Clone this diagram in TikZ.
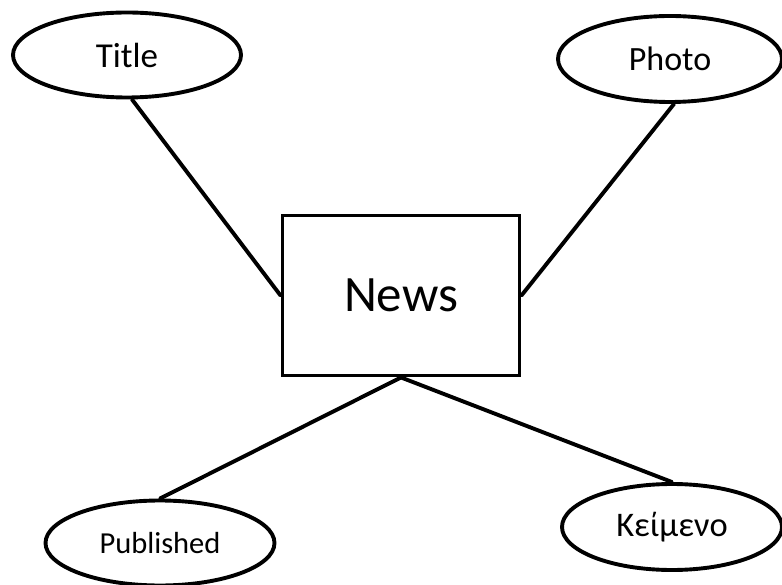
\documentclass[tikz,border=0pt]{standalone}
\usepackage{fontspec}
\setmainfont{Carlito}
\usetikzlibrary{shapes.geometric}
\begin{document}
\begin{tikzpicture}[x=1pt,y=-1pt,
  attr/.style={draw, ellipse, line width=3.9pt, inner sep=0pt,
    minimum width=228pt, minimum height=85pt},
  entity/.style={draw, rectangle, line width=3.9pt, inner sep=0pt,
    minimum width=237pt, minimum height=160pt,
    font=\fontsize{51}{56}\selectfont},
  link/.style={line width=3.9pt, line cap=round}]
  \useasboundingbox (0,0) rectangle (782,585);
  % entity
  \node[entity] (news) at (401,295.5) {News};
  % attributes
  \node[attr, font=\fontsize{35}{40}\selectfont] (title) at (127,55) {Title};
  \node[attr, minimum width=224pt, minimum height=86pt,
    font=\fontsize{34}{40}\selectfont] (photo) at (670,59) {Photo};
  \node[attr, minimum width=229pt, font=\fontsize{30.5}{36}\selectfont] (pub) at (160,543) {Published};
  \node[attr, minimum width=220pt, minimum height=86pt,
    font=\fontsize{34.5}{40}\selectfont] (text) at (672,527) {Κείμενο};
  % connectors
  \draw[link] (title.south) ++(5,0) -- (news.west);
  \draw[link] (photo.south) ++(4,0) -- (news.east);
  \draw[link] (pub.north) -- (news.south);
  \draw[link] (text.north) -- (news.south);
\end{tikzpicture}
\end{document}
